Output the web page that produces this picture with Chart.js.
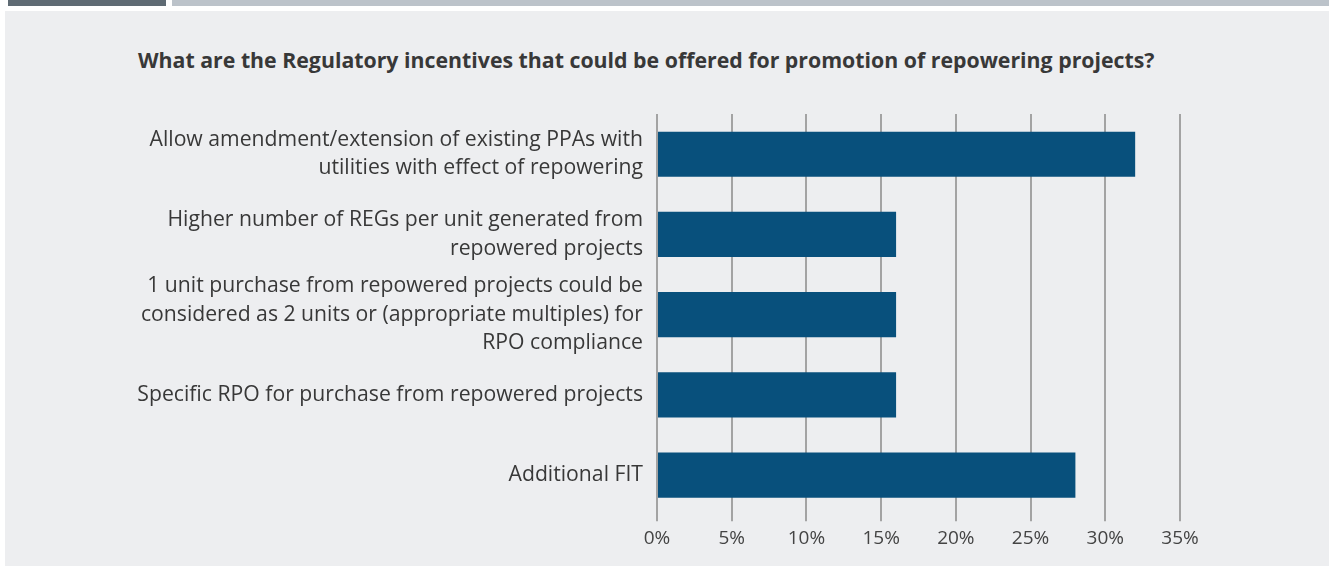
<!DOCTYPE html>
<html>
<head>
<meta charset="utf-8">
<script src="https://cdn.jsdelivr.net/npm/chart.js@4"></script>
<style>
  html, body { margin: 0; padding: 0; background: #ffffff; }
  body { width: 1329px; height: 566px; position: relative; overflow: hidden; font-family: "Open Sans", sans-serif; }
  #strip1 { position: absolute; left: 8px; top: 0; width: 158px; height: 6px; background: #5f6b74; }
  #strip2 { position: absolute; left: 172px; top: 0; width: 1157px; height: 6px; background: #bcc3ca; }
  #panel { position: absolute; left: 5px; top: 11px; width: 1324px; height: 555px; background: #edeef0; }
  #title { position: absolute; left: 138px; top: 45px; font-size: 21.3px; font-weight: bold; color: #383838; white-space: nowrap; }
  #wrap { position: absolute; left: 0; top: 86px; width: 1329px; height: 480px; }
</style>
</head>
<body>
<div id="strip1"></div>
<div id="strip2"></div>
<div id="panel"></div>
<div id="title">What are the Regulatory incentives that could be offered for promotion of repowering projects?</div>
<div id="wrap"><canvas id="chart"></canvas></div>
<script>
  // categories (top to bottom) and answer shares in percent
  const categories = [
    ["Allow amendment/extension of existing PPAs with", "utilities with effect of repowering"],
    ["Higher number of REGs per unit generated from", "repowered projects"],
    ["1 unit purchase from repowered projects could be", "considered as 2 units or (appropriate multiples) for", "RPO compliance"],
    "Specific RPO for purchase from repowered projects",
    "Additional FIT"
  ];
  const shares = [32, 16, 16, 16, 28];
  const tickValues = [0, 5, 10, 15, 20, 25, 30, 35];

  const ctx = document.getElementById('chart').getContext('2d');
  new Chart(ctx, {
    type: 'bar',
    data: {
      labels: categories,
      datasets: [{
        data: shares,
        backgroundColor: '#08507c',
        borderWidth: 0,
        categoryPercentage: 1,
        barPercentage: 0.5625
      }]
    },
    options: {
      indexAxis: 'y',
      responsive: true,
      maintainAspectRatio: false,
      animation: false,
      layout: { padding: { left: 0, right: 149, top: 0, bottom: 10 } },
      plugins: { legend: { display: false }, tooltip: { enabled: false } },
      scales: {
        x: {
          min: 0,
          max: 35,
          afterBuildTicks: function(scale) {
            scale.ticks = tickValues.map(v => ({ value: v }));
          },
          border: { display: false },
          grid: { color: '#a3a3a3', lineWidth: 2, drawTicks: true, tickLength: 6 },
          ticks: {
            color: '#444444',
            padding: 6,
            font: { family: 'Open Sans', size: 19 },
            callback: v => v + '%'
          }
        },
        y: {
          border: { display: false },
          grid: { display: false, drawTicks: false },
          afterFit: function(scale) { scale.width = 657; },
          ticks: {
            autoSkip: false,
            color: '#383838',
            padding: 14,
            font: { family: 'Open Sans', size: 21.2, lineHeight: 1.33 }
          }
        }
      }
    }
  });
</script>
</body>
</html>
